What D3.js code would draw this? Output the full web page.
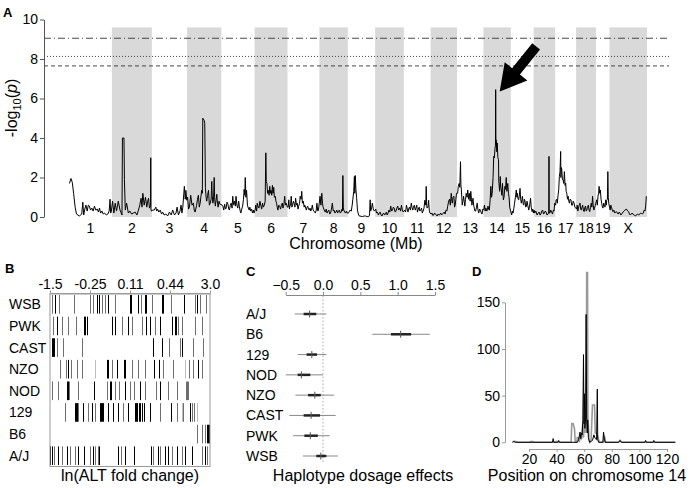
<!DOCTYPE html>
<html><head><meta charset="utf-8">
<script src="https://cdn.jsdelivr.net/npm/d3@7"></script>
<style>
body{margin:0;background:#fff}
text{font-family:"Liberation Sans",Arial,sans-serif;fill:#000}
</style>
</head><body>
<svg id="c" width="691" height="488"></svg>
<script>
// ---------------- DATA ----------------
const chromosomes = ["1","2","3","4","5","6","7","8","9","10","11","12","13","14","15","16","17","18","19","X"];
const chrLengths = [195.5,182.1,160.0,156.5,151.8,149.7,145.4,129.4,124.6,130.7,122.1,120.1,120.4,124.9,104.0,98.2,95.3,90.7,61.4,171.0];
const lodTicks = [0,2,4,6,8,10];
const thresholdValues = [9.05, 8.13, 7.65];

// genome scan: [Mb within chromosome, -log10 p]
const scanChr1 = [[2,1.7],[9,1.95],[15,1.75],[21,1.2],[28,0.5],[34,0.15],[47,0.05],[58,0.15],[63,0.75],[67,0.1],[72,0.4],[77,0.6],[83,0.3],[88,0.6],[93,0.55],[98,0.35],[104,0.45],[110,0.3],[116,0.55],[122,0.35],[129,0.4],[134,0.25],[139,0.45],[144,0.2],[150,0.3],[156,0.15],[162,0.2],[170,0.1],[177,0.15],[183,0.3],[187,0.9],[190,0.2],[193,0.3]];
const scanChr2 = [[3,0.8],[9,0.2],[15,0.7],[21,0.3],[29,0.8],[37,0.35],[46,0.1],[48,4.0],[55,4.0],[57,1.9],[61,0.35],[67,0.7],[75,0.2],[82,0.3],[90,0.15],[98,0.2],[106,0.25],[114,0.1],[121,0.35],[127,0.6],[133,0.95],[137,0.5],[141,1.2],[147,0.6],[153,1.0],[159,0.5],[163,0.8],[167,0.95],[171,0.45],[176,0.6],[177,3.0],[178,0.4],[180,0.3]];
const scanChr3 = [[4,0.35],[11,0.35],[18,0.5],[22,0.3],[26,0.4],[32,0.25],[38,0.35],[44,0.15],[49,0.25],[56,0.1],[64,0.15],[72,0.05],[80,0.25],[88,0.1],[95,0.35],[103,0.1],[110,0.2],[115,0.5],[121,0.1],[128,0.3],[133,0.6],[137,0.2],[141,0.5],[148,1.55],[152,0.9],[155,1.35],[159,0.85]];
const scanChr4 = [[3,1.0],[7,0.4],[11,0.5],[17,1.1],[23,0.6],[29,0.7],[33,0.35],[37,0.25],[44,0.6],[48,0.9],[52,1.1],[56,0.5],[60,0.7],[67,1.35],[70,1.2],[72,5.0],[78,4.9],[81,4.75],[84,1.5],[87,1.0],[90,0.8],[94,1.1],[98,1.35],[102,0.6],[106,0.7],[110,0.9],[113,1.8],[115,1.1],[118,0.7],[121,0.9],[124,2.0],[126,1.0],[129,0.55],[132,0.8],[136,1.15],[139,0.7],[142,0.5],[146,0.8],[150,0.65]];
const scanChr5 = [[4,0.6],[7,0.55],[11,0.35],[15,0.65],[19,0.4],[22,0.45],[26,0.75],[30,0.65],[34,0.4],[37,0.35],[41,0.6],[45,0.7],[49,0.45],[52,1.05],[56,0.6],[60,0.8],[64,0.55],[67,1.05],[71,0.6],[75,0.45],[79,0.8],[82,0.55],[86,0.3],[89,0.2],[93,0.4],[97,0.55],[101,0.9],[104,1.4],[107,1.1],[109,2.0],[112,1.0],[115,1.35],[119,0.6],[123,0.45],[127,0.35],[130,0.5],[134,0.3],[138,0.4],[142,0.2],[146,0.35],[149,0.2]];
const scanChr6 = [[3,0.4],[5,0.6],[9,0.3],[12,0.7],[16,0.5],[20,0.45],[24,0.8],[28,0.6],[32,0.4],[36,0.7],[40,0.5],[44,0.6],[48,0.8],[51,3.25],[53,1.8],[56,1.7],[59,1.2],[62,1.35],[66,1.1],[69,1.55],[72,1.2],[75,1.35],[78,1.1],[81,1.6],[84,1.2],[87,1.5],[90,1.0],[94,1.05],[97,0.8],[100,0.7],[103,0.5],[106,0.35],[110,0.6],[114,0.55],[118,0.4],[122,0.6],[126,0.7],[129,0.45],[133,0.6],[137,1.05],[140,0.6],[144,0.7],[149,0.5]];
const scanChr7 = [[3,0.5],[6,0.87],[9,0.4],[11,0.55],[14,0.6],[17,1.05],[20,0.5],[23,0.6],[27,0.8],[30,0.7],[34,0.5],[37,0.95],[41,0.6],[44,0.7],[48,0.4],[51,0.55],[55,0.7],[58,1.05],[62,0.9],[65,1.3],[68,0.7],[72,0.8],[76,0.5],[79,0.6],[83,0.45],[86,0.35],[89,0.5],[92,0.55],[96,0.4],[99,0.35],[103,0.45],[106,0.3],[110,0.4],[113,0.6],[117,0.35],[120,0.3],[124,0.25],[127,0.2],[131,0.35],[134,0.7],[138,0.3],[141,0.35]];
const scanChr8 = [[3,1.05],[7,0.6],[11,1.2],[14,0.7],[17,0.5],[22,0.35],[27,0.25],[31,0.4],[35,0.2],[39,0.3],[43,0.35],[47,0.15],[51,0.2],[55,0.4],[59,0.7],[63,0.3],[67,0.35],[71,0.2],[75,0.25],[79,0.35],[83,0.2],[87,0.3],[91,0.35],[95,0.2],[99,0.25],[103,0.4],[105,0.3],[107,2.1],[109,0.5],[111,0.35],[115,0.25],[119,0.2],[123,0.3],[126,0.2]];
const scanChr9 = [[3,0.2],[10,0.35],[16,0.3],[20,0.6],[23,0.9],[27,1.3],[30,2.05],[32,1.2],[34,2.1],[37,1.4],[40,1.0],[42,0.7],[44,0.35],[48,0.15],[52,0.05],[60,0.04],[66,0.02],[74,0.05],[81,0.05],[88,0.02],[95,0.02],[99,0.1],[102,0.87],[104,0.3],[106,0.35],[109,0.5],[112,0.7],[116,0.4],[121,0.3]];
const scanChr10 = [[3,0.4],[6,0.2],[10,0.25],[15,0.1],[19,0.2],[23,0.25],[27,0.1],[31,0.05],[35,0.15],[39,0.2],[43,0.1],[47,0.15],[51,0.25],[55,0.1],[59,0.2],[63,0.35],[67,0.25],[71,0.55],[75,0.3],[79,0.35],[83,0.5],[87,0.45],[91,0.25],[95,0.3],[99,0.45],[103,0.55],[107,0.35],[112,0.45],[116,0.3],[120,0.6],[124,0.35],[128,0.25]];
const scanChr11 = [[4,0.35],[8,0.25],[12,0.6],[16,0.4],[19,0.25],[23,0.45],[26,0.5],[30,0.35],[34,0.7],[37,0.5],[41,0.35],[44,0.5],[48,0.6],[52,0.35],[55,0.45],[59,0.6],[62,0.25],[66,0.4],[70,0.5],[73,0.3],[77,0.35],[81,0.45],[84,0.2],[88,0.3],[92,0.45],[96,0.85],[100,0.6],[102,1.55],[104,0.6],[106,0.45],[110,0.5],[113,0.85],[116,0.35],[119,0.2]];
const scanChr12 = [[3,0.15],[6,0.2],[10,0.08],[14,0.1],[18,0.2],[22,0.15],[26,0.1],[30,0.05],[34,0.15],[38,0.1],[42,0.12],[46,0.2],[50,0.1],[54,0.15],[58,0.2],[62,0.25],[66,0.15],[70,0.35],[74,0.3],[78,0.55],[82,0.8],[86,0.9],[90,0.6],[94,1.2],[97,0.8],[99,0.7],[102,1.0],[106,1.05],[109,0.5],[112,0.6],[115,0.9],[118,1.2]];
const scanChr13 = [[3,1.2],[6,1.55],[10,1.7],[13,1.5],[16,2.8],[18,1.6],[20,1.37],[22,1.0],[24,0.6],[27,0.8],[30,1.05],[33,0.8],[36,0.55],[39,0.9],[42,1.2],[46,1.0],[49,1.37],[53,0.9],[56,1.2],[60,0.8],[63,1.3],[66,0.9],[68,0.6],[71,0.8],[73,0.95],[76,0.6],[79,0.45],[82,0.3],[85,0.3],[89,0.5],[92,0.7],[96,0.35],[99,0.2],[103,0.4],[107,0.35],[111,0.2],[114,0.15],[118,0.4],[120,0.35]];
const scanChr14 = [[2,0.4],[5,0.6],[8,0.3],[11,0.45],[16,0.3],[21,0.55],[24,0.4],[27,0.35],[31,0.9],[34,1.55],[37,1.0],[40,1.2],[44,2.0],[47,3.07],[50,3.0],[53,3.49],[55,3.6],[56,6.45],[57,3.9],[59,3.9],[61,3.3],[63,3.75],[66,3.0],[69,2.9],[70,1.8],[71,1.7],[72,1.55],[74,1.3],[77,2.05],[79,1.5],[82,1.37],[84,1.1],[87,1.7],[89,1.2],[91,0.87],[94,1.0],[98,1.55],[101,1.4],[104,2.0],[107,1.3],[111,1.7],[114,1.2],[117,1.0],[120,0.5],[123,0.35]];
const scanChr15 = [[4,0.1],[7,0.3],[10,0.2],[14,0.45],[17,0.7],[21,1.0],[25,1.37],[28,1.0],[30,1.2],[33,0.9],[36,0.87],[39,1.1],[42,1.45],[45,0.9],[48,0.7],[51,0.9],[53,1.05],[56,0.7],[59,0.6],[62,0.9],[65,0.8],[68,0.5],[71,0.55],[74,0.8],[77,0.6],[80,0.45],[82,0.35],[86,0.6],[90,0.95],[93,0.5],[97,0.27],[100,0.4],[103,0.2]];
const scanChr16 = [[2,0.35],[5,0.2],[10,0.3],[16,0.1],[21,0.2],[25,0.25],[29,0.1],[33,0.15],[37,0.3],[41,0.35],[45,0.15],[49,0.2],[53,0.3],[57,0.25],[61,0.1],[65,0.15],[69,0.2],[70,3.07],[71,0.2],[74,0.2],[78,0.35],[82,0.25],[86,0.15],[90,0.35],[93,0.3],[96,0.7]];
const scanChr17 = [[2,0.6],[4,0.87],[7,0.9],[10,0.7],[13,1.1],[16,1.37],[19,2.05],[22,2.3],[25,3.32],[26,2.0],[27,2.2],[29,2.5],[30,2.39],[33,1.9],[36,1.88],[39,1.7],[42,2.3],[45,1.6],[48,1.71],[50,1.3],[53,1.2],[56,0.9],[59,1.05],[62,0.8],[65,0.7],[68,0.9],[72,0.87],[75,0.6],[79,0.6],[82,0.8],[86,0.7],[90,0.5],[94,0.45]];
const scanChr18 = [[2,0.4],[5,0.6],[8,0.3],[11,0.45],[14,0.6],[18,0.7],[21,0.4],[24,0.35],[27,0.5],[30,0.6],[34,0.3],[37,0.27],[40,0.5],[43,0.55],[46,0.3],[49,0.35],[52,0.5],[56,0.6],[59,0.35],[62,0.27],[66,0.5],[69,0.7],[72,0.5],[75,1.05],[78,0.6],[81,0.35],[85,0.5],[88,0.6]];
const scanChr19 = [[3,0.87],[6,0.6],[9,1.05],[12,1.2],[14,1.55],[17,1.2],[20,1.37],[23,0.9],[26,0.7],[29,0.5],[32,0.45],[35,0.7],[38,0.6],[41,0.5],[44,0.87],[47,0.6],[49,0.85],[52,0.9],[54,2.3],[56,1.0],[58,0.7]];
const scanChrX = [[3,0.35],[6,0.6],[9,0.5],[13,0.35],[16,0.27],[20,0.35],[24,0.2],[28,0.25],[32,0.27],[36,0.2],[40,0.15],[44,0.25],[48,0.2],[52,0.1],[55,0.15],[59,0.2],[63,0.27],[67,0.3],[71,0.35],[75,0.4],[79,0.38],[83,0.3],[87,0.27],[91,0.15],[95,0.1],[99,0.15],[103,0.2],[107,0.15],[111,0.1],[115,0.08],[119,0.05],[123,0.1],[127,0.15],[131,0.12],[134,0.1],[138,0.15],[142,0.2],[146,0.18],[150,0.15],[154,0.2],[158,0.35],[162,0.3],[165,0.55],[168,1.05]];
const scanByChr = [scanChr1,scanChr2,scanChr3,scanChr4,scanChr5,scanChr6,scanChr7,scanChr8,scanChr9,scanChr10,scanChr11,scanChr12,scanChr13,scanChr14,scanChr15,scanChr16,scanChr17,scanChr18,scanChr19,scanChrX];
const arrowChr = 14, arrowMb = 56, arrowLod = 6.45;

// Panel B: mice ranked by ALT fold change; [rank, haplotype dosage]
const nMice = 160;
const foldTickRanks = [0, 40, 80, 120, 160];
const foldTickLabels = ["-1.5","-0.25","0.11","0.44","3.0"];
const barcodeStrains = ["WSB","PWK","CAST","NZO","NOD","129","B6","A/J"];
const doseWSB = [[2,1],[5,2],[9,1],[24,1],[40,1],[43,1],[47,2],[49,2],[52,1],[55,1],[58,2],[65,1],[80,2],[81,2],[88,2],[91,1],[95,2],[96,2],[102,1],[112,2],[113,2],[121,1],[134,2],[145,1],[147,2],[150,1],[156,1]];
const dosePWK = [[3,1],[7,2],[12,1],[18,1],[26,1],[34,2],[35,2],[37,2],[62,2],[65,2],[72,1],[78,2],[82,1],[92,1],[96,2],[100,2],[105,1],[110,2],[122,2],[125,2],[126,2],[128,1],[132,1],[145,1],[152,1]];
const doseCAST = [[2,2],[3,2],[4,2],[7,1],[13,1],[32,1],[103,2],[112,2],[119,1],[130,1],[132,2],[143,1],[153,1]];
const doseNZO = [[10,1],[16,1],[18,2],[21,1],[27,1],[32,1],[45,0.5],[57,2],[58,2],[62,1],[67,2],[74,2],[75,2],[82,1],[88,1],[95,1],[104,2],[109,2],[113,1],[123,1],[135,0.5],[139,1],[143,1],[148,2],[152,1]];
const doseNOD = [[2,1],[8,1],[17,2],[18,2],[19,1],[28,1],[44,2],[57,1],[60,2],[61,2],[65,1],[69,1],[75,2],[80,1],[84,1],[90,2],[95,1],[106,1],[110,2],[118,1],[127,1],[136,1],[137,1],[138,1]];
const dose129 = [[15,1],[25,2],[26,2],[27,2],[28,1],[33,2],[38,1],[42,2],[45,1],[50,2],[51,2],[52,2],[53,2],[58,2],[63,2],[68,2],[73,1],[78,2],[85,2],[86,2],[87,2],[89,2],[90,2],[92,2],[94,2],[100,2],[110,1],[121,2],[127,1],[132,0.5],[133,1],[140,2],[142,1],[144,1],[147,0.5]];
const doseB6 = [[147,1],[152,1],[155,1],[157,2],[158,2],[159,2]];
const doseAJ = [[0,2],[2,2],[4,1],[8,2],[12,1],[17,2],[20,1],[25,1],[28,2],[34,2],[40,1],[43,2],[45,1],[48,1],[49,2],[68,2],[71,1],[75,2],[84,2],[101,2],[103,1],[108,2],[110,1],[115,2],[118,2],[122,1],[127,2],[132,1],[135,2],[142,2],[152,1],[155,2],[157,1]];
const doseByStrain = [doseWSB,dosePWK,doseCAST,doseNZO,doseNOD,dose129,doseB6,doseAJ];

// Panel C: haplotype dosage effects
const effectStrains = ["A/J","B6","129","NOD","NZO","CAST","PWK","WSB"];
const effectMean    = [-0.18, 1.04, -0.15, -0.29, -0.11, -0.16, -0.17, -0.03];
const effectInnerLo = [-0.26, 0.91, -0.22, -0.34, -0.20, -0.26, -0.25, -0.09];
const effectInnerHi = [-0.09, 1.18, -0.08, -0.17, -0.03, -0.04, -0.07, 0.045];
const effectOuterLo = [-0.38, 0.66, -0.34, -0.50, -0.37, -0.45, -0.40, -0.27];
const effectOuterHi = [0.045, 1.43, 0.045, 0.0, 0.15, 0.17, 0.09, 0.20];
const effectTicks = [-0.5, 0.0, 0.5, 1.0, 1.5];

// Panel D: position on chromosome 14, two series [Mb, count]
const posTicks = [20,40,60,80,100,120];
const countTicks = [0,50,100,150];
const posGray = [[8,0.5],[10,1],[12,0],[20,0],[22,1],[24,0],[38,0],[40,1],[42,0],[50.5,0],[51,20],[52,20],[53,14],[53.5,0],[54.5,0],[55,5],[56,5],[56.5,0],[57,8],[58,3],[59,20],[59.5,5],[60,22],[60.5,10],[61,15],[61.5,10],[61.8,182],[62.4,182],[62.7,10],[63,20],[63.5,2],[64,0],[65,3],[66,40],[67.5,40],[68,10],[69,10],[69.5,2],[70,5],[71,0],[74,0],[74.5,7],[75,5],[75.5,0],[85,0],[86,2],[87,0],[126,0]];
const posBlack = [[8,0],[9,1],[10,0],[37,0],[37.5,4],[38,0],[41,0],[41.5,2],[42,0],[55,0],[56,3],[57,11],[57.5,4],[58,10],[58.5,8],[59,24],[59.5,94],[59.8,20],[60.2,52],[60.5,15],[61,25],[61.4,137],[61.8,25],[62.3,10],[62.6,24],[63,5],[64,0],[66,2],[67,8],[68,4],[69,3],[69.5,57],[69.8,3],[70.5,0],[73.5,0],[74,11],[74.6,4],[75.2,0],[85,0],[86,2],[87,0],[104,0],[104.5,2],[105,0],[110,0],[110.5,2],[111,0],[126,0]];

// ---------------- DRAW ----------------
const svg = d3.select("#c");
svg.append("rect").attr("width",691).attr("height",488).attr("fill","#fff");

function styleAxis(g, color){
  g.selectAll("path.domain").attr("stroke", color);
  g.selectAll(".tick line").attr("stroke", color);
  g.selectAll(".tick text").attr("fill","#000").style("font-family",'"Liberation Sans",Arial,sans-serif');
}
function panelLabel(t,x,y){
  svg.append("text").attr("x",x).attr("y",y).attr("font-size",13).attr("font-weight","bold").text(t);
}

// ===== Panel A =====
const chrStart = [0, ...d3.cumsum(chrLengths)].slice(0, chrLengths.length);
const xA = d3.scaleLinear().domain([0, d3.sum(chrLengths)]).range([69, 647]);
const yA = d3.scaleLinear().domain([0, 10]).range([217, 19.5]);
const gA = svg.append("g");

chromosomes.forEach((c,i)=>{
  if (i % 2 === 1) {
    gA.append("rect")
      .attr("x", xA(chrStart[i])).attr("width", xA(chrStart[i]+chrLengths[i]) - xA(chrStart[i]))
      .attr("y", yA(9.6)).attr("height", yA(0) - yA(9.6))
      .attr("fill", "#d9d9d9");
  }
  gA.append("text").attr("x", xA(chrStart[i] + chrLengths[i]/2)).attr("y", 233)
    .attr("text-anchor","middle").attr("font-size",14).text(c);
});

const thrDash = ["7,3,1,3", "1,2", "4,3"];
thresholdValues.forEach((v,i)=>{
  gA.append("line").attr("x1",44).attr("x2",669).attr("y1",yA(v)).attr("y2",yA(v))
    .attr("stroke","#333").attr("stroke-width",0.9).attr("stroke-dasharray",thrDash[i]);
});

const scanPts = [];
scanByChr.forEach((arr,i)=> arr.forEach(d => scanPts.push([chrStart[i] + d[0], d[1]])));
gA.append("path").datum(scanPts)
  .attr("d", d3.line().x(d=>xA(d[0])).y(d=>yA(d[1])))
  .attr("fill","none").attr("stroke","#000").attr("stroke-width",1).attr("stroke-linejoin","round");

const axA = gA.append("g").attr("transform","translate(44,0)")
  .call(d3.axisLeft(yA).tickValues(lodTicks).tickSize(4).tickSizeOuter(0).tickPadding(2));
axA.selectAll("text").attr("font-size",14);
styleAxis(axA, "#555");

const yl = gA.append("text").attr("transform","translate(17,108) rotate(-90)")
  .attr("text-anchor","middle").attr("font-size",16);
yl.append("tspan").text("-log");
yl.append("tspan").attr("font-size",11).attr("dy",4).text("10");
yl.append("tspan").attr("dy",-4).text("(");
yl.append("tspan").attr("font-style","italic").text("p");
yl.append("tspan").text(")");

gA.append("text").attr("x",356).attr("y",249).attr("text-anchor","middle").attr("font-size",16).text("Chromosome (Mb)");

// arrow pointing at chr14 peak
(function(){
  const tx = xA(chrStart[arrowChr-1] + arrowMb) + 4, ty = yA(arrowLod) + 2;
  const ux = -0.628, uy = 0.779, px = 0.779, py = 0.628;
  const L = 58, H = 26, HW = 14.5, SW = 5;
  const bx = tx - ux*H, by = ty - uy*H, ex = tx - ux*L, ey = ty - uy*L;
  const pts = [[tx,ty],[bx+px*HW,by+py*HW],[bx+px*SW,by+py*SW],[ex+px*SW,ey+py*SW],
               [ex-px*SW,ey-py*SW],[bx-px*SW,by-py*SW],[bx-px*HW,by-py*HW]];
  gA.append("path").attr("d", d3.line()(pts) + "Z").attr("fill","#000");
})();
panelLabel("A", 3, 17);

// ===== Panel B =====
const xB = d3.scaleLinear().domain([0, nMice]).range([50, 210]);
const yB = d3.scaleBand().domain(barcodeStrains).range([293.5, 466.5]);
const gB = svg.append("g");
const doseColor = d => d >= 2 ? "#000" : (d >= 1 ? "#6e6e6e" : "#bdbdbd");
barcodeStrains.forEach((s,i)=>{
  gB.selectAll(null).data(doseByStrain[i]).enter().append("rect")
    .attr("x", d => xB(d[0])).attr("width", xB(1)-xB(0))
    .attr("y", yB(s)+1.5).attr("height", yB.bandwidth()-3)
    .attr("fill", d => doseColor(d[1]));
  gB.append("text").attr("x",9).attr("y",yB(s)+yB.bandwidth()/2+5).attr("font-size",14).text(s);
});
gB.append("rect").attr("x",xB(0)).attr("y",293.5).attr("width",xB(nMice)-xB(0)).attr("height",173)
  .attr("fill","none").attr("stroke","#999").attr("stroke-width",1);
const axB = gB.append("g").attr("transform","translate(0,293.5)")
  .call(d3.axisTop(xB).tickValues(foldTickRanks).tickFormat((d,i)=>foldTickLabels[i]).tickSize(3).tickSizeOuter(0).tickPadding(2));
axB.selectAll("text").attr("font-size",14);
styleAxis(axB, "#999");
gB.append("text").attr("x",130).attr("y",481).attr("text-anchor","middle").attr("font-size",16).text("ln(ALT fold change)");
panelLabel("B", 5, 273);

// ===== Panel C =====
const xC = d3.scaleLinear().domain([-0.5, 1.5]).range([285.7, 435]);
const yC = d3.scalePoint().domain(effectStrains).range([314, 456]);
const gC = svg.append("g");
gC.append("line").attr("x1",xC(0)).attr("x2",xC(0)).attr("y1",296).attr("y2",464)
  .attr("stroke","#aaa").attr("stroke-dasharray","1.5,2");
effectStrains.forEach((s,i)=>{
  const y = yC(s);
  gC.append("line").attr("x1",xC(effectOuterLo[i])).attr("x2",xC(effectOuterHi[i])).attr("y1",y).attr("y2",y)
    .attr("stroke","#888").attr("stroke-width",1);
  gC.append("line").attr("x1",xC(effectInnerLo[i])).attr("x2",xC(effectInnerHi[i])).attr("y1",y).attr("y2",y)
    .attr("stroke","#222").attr("stroke-width",2.5);
  gC.append("line").attr("x1",xC(effectMean[i])).attr("x2",xC(effectMean[i])).attr("y1",y-3.5).attr("y2",y+3.5)
    .attr("stroke","#555").attr("stroke-width",1);
  gC.append("text").attr("x",246).attr("y",y+5).attr("font-size",14).text(s);
});
const axC = gC.append("g").attr("transform","translate(0,295)")
  .call(d3.axisTop(xC).tickValues(effectTicks).tickFormat(d3.format(".1f")).tickSize(3).tickSizeOuter(0).tickPadding(2));
axC.selectAll("text").attr("font-size",14);
styleAxis(axC, "#888");
gC.append("text").attr("x",363).attr("y",481).attr("text-anchor","middle").attr("font-size",16).text("Haplotype dosage effects");
panelLabel("C", 246, 276);

// ===== Panel D =====
const xD = d3.scaleLinear().domain([0, 120]).range([501.4, 667]);
const yD = d3.scaleLinear().domain([0, 150]).range([442.3, 302.3]);
const gD = svg.append("g");
const lineD = d3.line().x(d=>xD(d[0])).y(d=>yD(d[1]));
gD.append("path").datum(posGray).attr("d",lineD).attr("fill","none").attr("stroke","#999").attr("stroke-width",1.6);
gD.append("path").datum(posBlack).attr("d",lineD).attr("fill","none").attr("stroke","#000").attr("stroke-width",1);
const axDy = gD.append("g").attr("transform","translate(505,0)")
  .call(d3.axisLeft(yD).tickValues(countTicks).tickSize(3).tickSizeOuter(0).tickPadding(2));
axDy.selectAll("text").attr("font-size",14);
styleAxis(axDy, "#999");
const xDaxis = xD.copy().domain([20,120]).range([xD(20), xD(120)]);
const axDx = gD.append("g").attr("transform","translate(0,449)")
  .call(d3.axisBottom(xDaxis).tickValues(posTicks).tickSize(3).tickSizeOuter(0).tickPadding(2));
axDx.selectAll("text").attr("font-size",14);
styleAxis(axDx, "#999");
gD.append("text").attr("x",587).attr("y",481).attr("text-anchor","middle").attr("font-size",16).text("Position on chromosome 14");
panelLabel("D", 472, 276);
</script>
</body></html>
